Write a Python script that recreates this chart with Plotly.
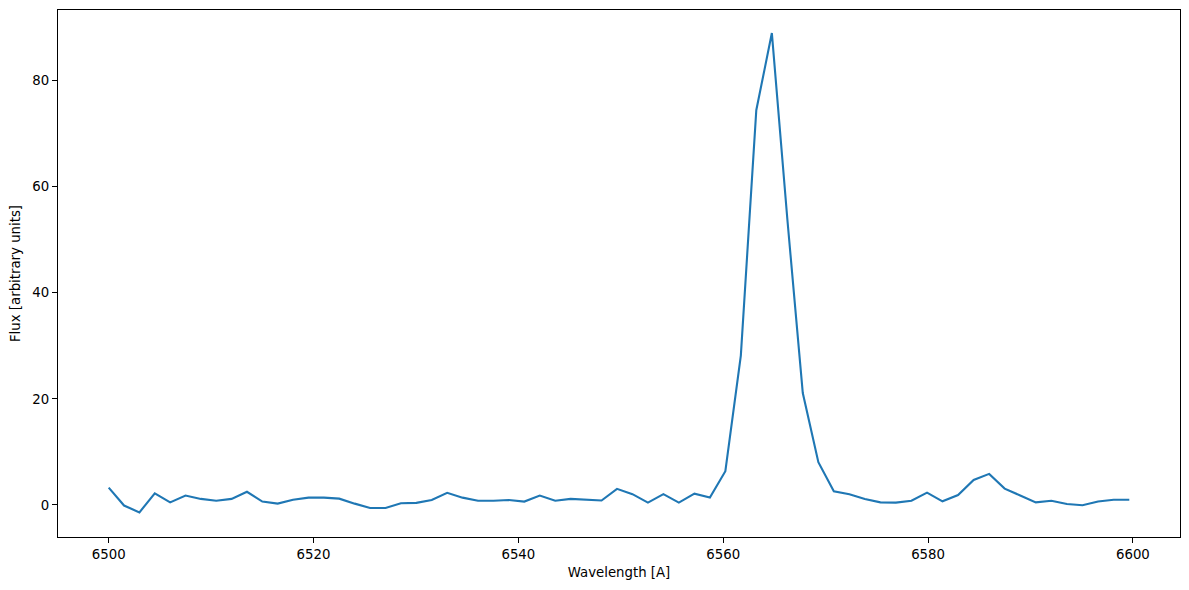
import plotly.graph_objects as go

wavelength = [
    6500.00, 6501.50, 6503.00, 6504.50, 6506.00, 6507.50, 6509.00, 6510.50, 6512.00, 6513.50,
    6515.00, 6516.50, 6518.00, 6519.51, 6521.01, 6522.51, 6524.02, 6525.52, 6527.03, 6528.53,
    6530.04, 6531.54, 6533.05, 6534.55, 6536.06, 6537.57, 6539.07, 6540.58, 6542.09, 6543.60,
    6545.10, 6546.61, 6548.12, 6549.63, 6551.14, 6552.65, 6554.16, 6555.67, 6557.19, 6558.70,
    6560.21, 6561.72, 6563.23, 6564.75, 6566.26, 6567.77, 6569.29, 6570.80, 6572.32, 6573.83,
    6575.35, 6576.86, 6578.38, 6579.90, 6581.41, 6582.93, 6584.45, 6585.97, 6587.48, 6589.00,
    6590.52, 6592.04, 6593.56, 6595.08, 6596.60, 6598.12, 6599.65,
]

flux = [
    3.27, -0.11, -1.40, 2.18, 0.49, 1.78, 1.14, 0.79, 1.14, 2.48,
    0.64, 0.25, 0.99, 1.38, 1.38, 1.19, 0.25, -0.56, -0.56, 0.31,
    0.39, 0.94, 2.28, 1.38, 0.79, 0.79, 0.94, 0.64, 1.78, 0.79,
    1.14, 0.94, 0.84, 3.03, 2.03, 0.44, 2.03, 0.44, 2.13, 1.38,
    6.36, 28.15, 74.4, 88.95, 53.9, 21.1, 8.05, 2.58, 2.03, 1.14,
    0.49, 0.44, 0.79, 2.33, 0.69, 1.88, 4.72, 5.86, 3.08, 1.78,
    0.49, 0.79, 0.19, -0.06, 0.64, 0.99, 0.99,
]

x_ticks = [6500, 6520, 6540, 6560, 6580, 6600]
y_ticks = [0, 20, 40, 60, 80]

fig = go.Figure()
fig.add_trace(go.Scatter(
    x=wavelength, y=flux, mode="lines",
    line=dict(color="#1f77b4", width=2.1),
    showlegend=False,
))

axis_common = dict(
    showline=True, mirror=True, linecolor="black", linewidth=1.1,
    showgrid=False, zeroline=False,
    ticks="outside", ticklen=5, tickwidth=1.1, tickcolor="black",
    tickfont=dict(family="DejaVu Sans", size=13.3, color="black"),
)

fig.update_layout(
    width=1189, height=590,
    margin=dict(l=58, r=9, t=10, b=53),
    paper_bgcolor="white", plot_bgcolor="white",
    font=dict(family="DejaVu Sans", size=13.3, color="black"),
    xaxis=dict(
        range=[6495.05, 6604.6], tickvals=x_ticks,
        title=dict(text="Wavelength [A]", font=dict(size=13.3), standoff=6),
        **axis_common,
    ),
    yaxis=dict(
        range=[-6.04, 93.3], tickvals=y_ticks,
        title=dict(text="Flux [arbitrary units]", font=dict(size=13.3), standoff=8),
        **axis_common,
    ),
)

fig.write_html(
    "out.html",
    config={"displayModeBar": False},
    post_script="document.body.style.margin='0';document.body.style.overflow='hidden';",
)
